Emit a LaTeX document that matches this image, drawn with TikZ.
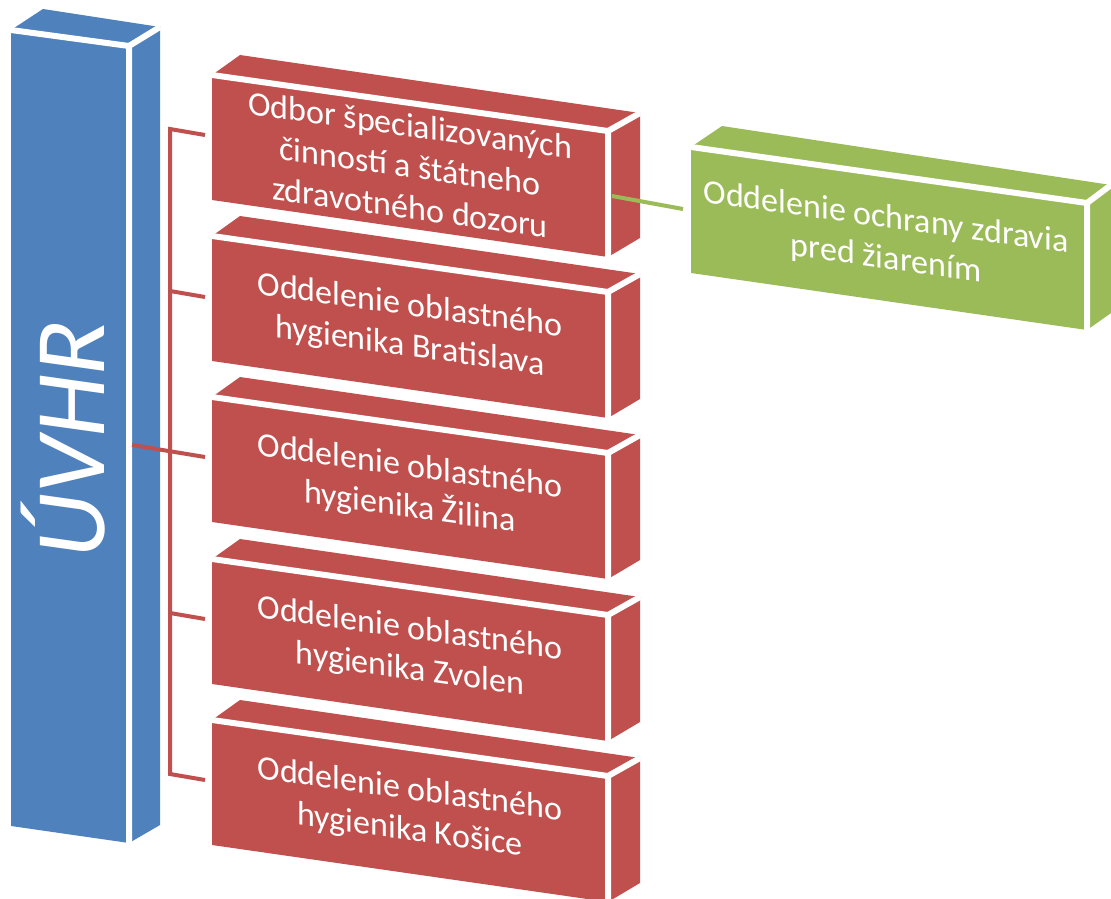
\documentclass[tikz,border=0pt]{standalone}
\usepackage{fontspec}
\setmainfont{Carlito}
\definecolor{ublue}{HTML}{4F81BD}
\definecolor{ured}{HTML}{C0504D}
\definecolor{ugreen}{HTML}{9BBB59}
\tikzset{
  facegap/.style={white, line width=6pt, line cap=butt},
  boxtxt/.style={text=white, align=center, inner sep=0pt,
    font=\fontsize{34}{41}\selectfont, yslant=-0.14},
  redline/.style={ured, line width=4pt},
  greenline/.style={ugreen, line width=4pt},
}
\newcommand\solidbox[8]{%
  \fill[#1] (#2)--(#3)--(#4)--(#5)--cycle;
  \fill[#1] (#2)--(#6)--(#7)--(#3)--cycle;
  \fill[#1] (#3)--(#7)--(#8)--(#4)--cycle;
  \draw[facegap] (#2)--(#3)--(#4);
  \draw[facegap] (#3)--(#7);
}
\newcommand\redcube[2]{%
  \coordinate (#1A) at (212,#2);
  \coordinate (#1B) at (608,{#2+56});
  \coordinate (#1C) at (608,{#2+182});
  \coordinate (#1D) at (212,{#2+125});
  \coordinate (#1E) at (240,{#2-20});
  \coordinate (#1F) at (640,{#2+38});
  \coordinate (#1G) at (640,{#2+163});
  \coordinate (#1M) at (410,{#2+91});
  \solidbox{ured}{#1A}{#1B}{#1C}{#1D}{#1E}{#1F}{#1G}
}
\begin{document}
\begin{tikzpicture}[x=1pt,y=-1pt]
\useasboundingbox (0,0) rectangle (1111,899);
\clip (0,0) rectangle (1111,899);
% blue bar
\coordinate (uA) at (11,30);
\coordinate (uB) at (129,46);
\coordinate (uC) at (129,843);
\coordinate (uD) at (11,826);
\coordinate (uE) at (43,9);
\coordinate (uF) at (160,27);
\coordinate (uG) at (160,825);
\solidbox{ublue}{uA}{uB}{uC}{uD}{uE}{uF}{uG}
\node[text=white, inner sep=0pt, font=\fontsize{100}{100}\selectfont,
  yslant=-0.14, rotate=90] (uvhr) at (63,437) {ÚVHR};
% red boxes
\redcube{r1}{75}
\redcube{r2}{236}
\redcube{r3}{397}
\redcube{r4}{559}
\redcube{r5}{720}
\node[boxtxt] (n1) at (r1M) {Odbor špecializovaných\\činností a štátneho\\zdravotného dozoru};
\node[boxtxt] (n2) at (r2M) {Oddelenie oblastného\\hygienika Bratislava};
\node[boxtxt] (n3) at (r3M) {Oddelenie oblastného\\hygienika Žilina};
\node[boxtxt] (n4) at (r4M) {Oddelenie oblastného\\hygienika Zvolen};
\node[boxtxt] (n5) at (r5M) {Oddelenie oblastného\\hygienika Košice};
% green box
\coordinate (gA) at (691,147);
\coordinate (gB) at (1087,203);
\coordinate (gC) at (1087,330);
\coordinate (gD) at (691,273);
\coordinate (gE) at (722,126);
\coordinate (gF) at (1111,185);
\coordinate (gG) at (1111,313);
\coordinate (gM) at (886,239);
\solidbox{ugreen}{gA}{gB}{gC}{gD}{gE}{gF}{gG}
\node[boxtxt] (ng) at (gM) {Oddelenie ochrany zdravia\\pred žiarením};
% connectors
\coordinate (s1) at (170,129); \coordinate (t1) at (205,135);
\coordinate (s2) at (170,291); \coordinate (t2) at (205,297);
\coordinate (s3) at (170,451); \coordinate (t3) at (205,457);
\coordinate (s4) at (170,613); \coordinate (t4) at (205,619);
\coordinate (s5) at (170,774); \coordinate (t5) at (205,780);
\coordinate (ub) at (132,445);
\draw[redline] (t1)--(s1)--(s5)--(t5);
\draw[redline] (s2)--(t2);
\draw[redline] (s4)--(t4);
\draw[redline] (ub)--(t3);
\coordinate (g0) at (612,196);
\coordinate (g1) at (683,209);
\draw[greenline] (g0)--(g1);
\end{tikzpicture}
\end{document}
